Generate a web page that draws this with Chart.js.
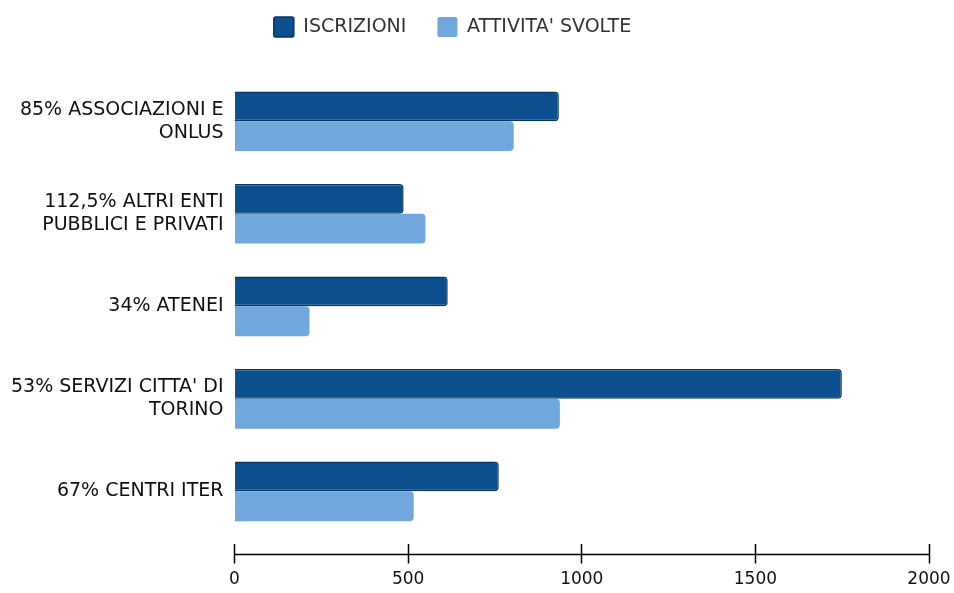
<!DOCTYPE html>
<html>
<head>
<meta charset="utf-8">
<script src="https://cdn.jsdelivr.net/npm/chart.js@4"></script>
<style>
html,body{margin:0;padding:0;background:#fff;overflow:hidden;}
#wrap{width:954px;height:593px;position:relative;}
</style>
</head>
<body>
<div id="wrap"><canvas id="c"></canvas></div>
<script>
const categories = [
  ["85% ASSOCIAZIONI E", "ONLUS"],
  ["112,5% ALTRI ENTI", "PUBBLICI E PRIVATI"],
  ["34% ATENEI"],
  ["53% SERVIZI CITTA' DI", "TORINO"],
  ["67% CENTRI ITER"]
];
const seriesNames = ["ISCRIZIONI", "ATTIVITA' SVOLTE"];
const iscrizioni = [934, 487, 614, 1749, 761];
const attivita = [804, 550, 216, 937, 516];
const xTicks = [0, 500, 1000, 1500, 2000];

const FONT = "'DejaVu Sans', sans-serif";

const axisLine = {
  id: 'axisLine',
  afterDraw(chart) {
    const x = chart.scales.x;
    const ctx = chart.ctx;
    const y = Math.round(chart.chartArea.bottom + 16) + 0.5;
    ctx.save();
    ctx.strokeStyle = '#000';
    ctx.lineWidth = 1.5;
    ctx.beginPath();
    ctx.moveTo(x.getPixelForValue(xTicks[0]), y);
    ctx.lineTo(x.getPixelForValue(xTicks[xTicks.length - 1]), y);
    ctx.stroke();
    ctx.restore();
  }
};

const legendGap = {
  id: 'legendGap',
  beforeInit(chart) {
    const origFit = chart.legend.fit;
    chart.legend.fit = function () {
      origFit.call(this);
      this.height += 28;
    };
  },
  afterLayout(chart) {
    chart.legend.left -= 12;
    chart.legend.right -= 12;
  }
};

new Chart(document.getElementById('c'), {
  type: 'bar',
  data: {
    labels: categories,
    datasets: [
      {
        label: seriesNames[0],
        data: iscrizioni,
        backgroundColor: '#0b4f8f',
        borderColor: '#073662',
        borderWidth: 1.5,
        borderRadius: 4,
        borderSkipped: 'start',
        categoryPercentage: 0.645,
        barPercentage: 1.0
      },
      {
        label: seriesNames[1],
        data: attivita,
        backgroundColor: '#70a7dd',
        borderColor: '#70a7dd',
        borderWidth: 0,
        borderRadius: 4,
        borderSkipped: 'start',
        categoryPercentage: 0.645,
        barPercentage: 1.0
      }
    ]
  },
  options: {
    indexAxis: 'y',
    responsive: true,
    maintainAspectRatio: false,
    animation: false,
    layout: { padding: { top: -14, right: 25, bottom: -3, left: 0 } },
    plugins: {
      legend: {
        position: 'top',
        labels: {
          color: '#333',
          font: { family: FONT, size: 19 },
          boxWidth: 20,
          boxHeight: 20,
          padding: 31,
          useBorderRadius: true,
          borderRadius: 2
        }
      },
      tooltip: { enabled: false }
    },
    scales: {
      x: {
        min: 0,
        max: 2000,
        afterBuildTicks(scale) { scale.ticks = xTicks.map(v => ({ value: v })); },
        afterFit(scale) { scale.paddingRight = Math.min(scale.paddingRight, 6); },
        border: { display: false },
        grid: {
          drawOnChartArea: false,
          drawTicks: true,
          tickLength: 26,
          tickColor: '#000',
          tickWidth: 1.5,
          tickBorderDash: [0, 6, 20]
        },
        ticks: {
          color: '#111',
          padding: 6,
          font: { family: FONT, size: 17 },
          callback: (v) => String(v)
        }
      },
      y: {
        border: { display: false },
        grid: { display: false, drawTicks: false },
        ticks: {
          color: '#111',
          padding: 11,
          font: { family: FONT, size: 19, lineHeight: 1.2 }
        }
      }
    }
  },
  plugins: [axisLine, legendGap]
});
</script>
</body>
</html>
